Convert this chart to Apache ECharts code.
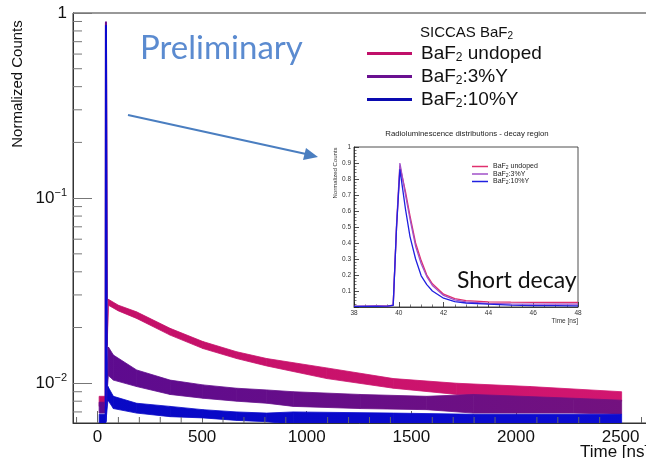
<!DOCTYPE html>
<html>
<head>
<meta charset="utf-8">
<script src="https://cdn.jsdelivr.net/npm/echarts@6/dist/echarts.min.js"></script>
<style>
  html, body { margin: 0; padding: 0; background: #fff; }
  #chart { width: 646px; height: 458px; }
</style>
</head>
<body>
<div id="chart"></div>
<script>
// main plot: decay bands (time in ns, normalized counts)
const redTime = [8, 38, 52, 100, 187, 347, 504, 665, 809, 1096, 1414, 1717, 2067, 2505];
const redHigh = [0.0085, 0.0085, 0.0284, 0.0264, 0.0243, 0.0198, 0.0168, 0.0148, 0.0136, 0.0121, 0.0106, 0.0100, 0.0096, 0.0090];
const redLow = [0.0075, 0.0075, 0.0264, 0.0246, 0.0224, 0.0182, 0.0154, 0.0136, 0.0124, 0.0106, 0.0094, 0.0087, 0.0083, 0.0080];

const purpleTime = [8, 38, 52, 76, 187, 347, 504, 665, 809, 936, 1255, 1574, 1796, 2274, 2505];
const purpleHigh = [0.0079, 0.0079, 0.0157, 0.0142, 0.0118, 0.0104, 0.0098, 0.0094, 0.0092, 0.0090, 0.0087, 0.0085, 0.0087, 0.0083, 0.0081];
const purpleLow = [0.0069, 0.0069, 0.0110, 0.0104, 0.0096, 0.0087, 0.0083, 0.0080, 0.0078, 0.0075, 0.0073, 0.0072, 0.0069, 0.0069, 0.0068];

const blueTime = [8, 38, 50, 76, 187, 347, 504, 665, 809, 936, 1414, 1796, 2505];
const blueHigh = [0.0068, 0.0068, 0.0096, 0.0085, 0.0078, 0.0075, 0.0072, 0.0070, 0.0069, 0.0070, 0.0069, 0.0068, 0.0068];
const blueLow = [0.0058, 0.0058, 0.0081, 0.0073, 0.0069, 0.0066, 0.0065, 0.0063, 0.0062, 0.0060, 0.0060, 0.0059, 0.0059];

// the fast spike at ~40 ns
const spikeTime = [39.5, 40.5, 44];
const redSpike = [0.0075, 0.88, 0.028];
const purpleSpike = [0.0075, 0.90, 0.016];
const blueSpike = [0.0062, 0.86, 0.0096];

// inset: decay region
const insetTime = [38, 39, 39.5, 39.75, 39.9, 40.05, 40.3, 40.5, 40.75, 41, 41.25, 41.5, 42, 42.5, 43, 44, 45, 46, 47, 48];
const insetRed = [0.004, 0.005, 0.006, 0.012, 0.5, 0.88, 0.72, 0.57, 0.40, 0.29, 0.20, 0.145, 0.08, 0.052, 0.04, 0.032, 0.03, 0.029, 0.028, 0.028];
const insetPurple = [0.004, 0.008, 0.006, 0.012, 0.52, 0.90, 0.70, 0.55, 0.38, 0.27, 0.19, 0.135, 0.072, 0.045, 0.032, 0.022, 0.019, 0.018, 0.018, 0.018];
const insetBlue = [0.004, 0.004, 0.005, 0.010, 0.5, 0.86, 0.61, 0.44, 0.30, 0.195, 0.14, 0.10, 0.055, 0.034, 0.025, 0.018, 0.012, 0.009, 0.008, 0.007];

const names = ['BaF2 undoped', 'BaF2:3%Y', 'BaF2:10%Y'];
const xTicksMinor = [-100, 100, 200, 300, 400, 600, 700, 800, 900, 1100, 1200, 1300, 1400, 1600, 1700, 1800, 1900, 2100, 2200, 2300, 2400, 2600];
const yTicksMinor = [0.007, 0.008, 0.009, 0.02, 0.03, 0.04, 0.05, 0.06, 0.07, 0.08, 0.09, 0.2, 0.3, 0.4, 0.5, 0.6, 0.7, 0.8, 0.9];

const X_MIN = -117, X_MAX = 2631, Y_MIN = 0.0061, Y_MAX = 1;
const helv = 'Liberation Sans';

function bandData(t, lo, hi) {
  const out = [];
  for (let i = 0; i < t.length - 1; i++) {
    out.push([t[i], lo[i], hi[i], t[i + 1], lo[i + 1], hi[i + 1]]);
  }
  return out;
}
function pairs(t, v) {
  return t.map((x, i) => [x, v[i]]);
}
function grad(c1, c2) {
  return new echarts.graphic.LinearGradient(73, 0, 646, 0, [
    { offset: 0, color: c1 }, { offset: 1, color: c2 }
  ], true);
}
function bandSeries(name, t, lo, hi, c1, c2) {
  const fill = grad(c1, c2);
  return {
    name: name,
    type: 'custom',
    clip: true,
    encode: { x: [0, 3], y: [1, 2, 4, 5] },
    data: bandData(t, lo, hi),
    renderItem: function (params, api) {
      const a = api.coord([api.value(0), api.value(1)]);
      const b = api.coord([api.value(0), api.value(2)]);
      const c = api.coord([api.value(3), api.value(5)]);
      const d = api.coord([api.value(3), api.value(4)]);
      return {
        type: 'polygon',
        shape: { points: [a, b, c, d] },
        style: { fill: fill, stroke: fill, lineWidth: 0.8 }
      };
    }
  };
}
function spikeSeries(name, v, color) {
  return {
    name: name,
    type: 'line',
    data: pairs(spikeTime, v),
    symbol: 'none',
    lineStyle: { color: color, width: 2 },
    itemStyle: { color: color }
  };
}
function insetSeries(name, v, color) {
  return {
    name: name,
    type: 'line',
    xAxisIndex: 1,
    yAxisIndex: 1,
    data: pairs(insetTime, v),
    symbol: 'none',
    lineStyle: { color: color, width: 1.3 },
    itemStyle: { color: color }
  };
}
const legendRich = {
  'BaF2 undoped': 'BaF{s|2} undoped',
  'BaF2:3%Y': 'BaF{s|2}:3%Y',
  'BaF2:10%Y': 'BaF{s|2}:10%Y'
};

const chart = echarts.init(document.getElementById('chart'), null, { renderer: 'canvas' });

const tickData = [];
yTicksMinor.forEach(v => tickData.push([0, v]));
xTicksMinor.forEach(v => tickData.push([1, v]));

const option = {
  animation: false,
  backgroundColor: '#ffffff',
  grid: [
    { left: 73, top: 13, right: -2, bottom: 35, show: true, borderColor: '#333', borderWidth: 1, outerBoundsMode: 'none' },
    { left: 354, top: 147, right: 68, bottom: 151, show: true, borderColor: '#222', borderWidth: 0.8, backgroundColor: '#fff', outerBoundsMode: 'none' }
  ],
  xAxis: [
    {
      type: 'value', gridIndex: 0, min: X_MIN, max: X_MAX,
      axisLine: { onZero: false, lineStyle: { color: '#333' } },
      axisTick: { inside: true, length: 12, lineStyle: { color: '#666' } },
      splitLine: { show: false },
      axisLabel: { fontFamily: helv, fontSize: 17, color: '#111', margin: 6, showMinLabel: false, showMaxLabel: false, formatter: v => String(v) }
    },
    {
      type: 'value', gridIndex: 1, min: 38, max: 48, interval: 2,
      axisLine: { onZero: false, lineStyle: { color: '#222', width: 0.8 } },
      axisTick: { inside: true, length: 5, lineStyle: { color: '#222', width: 0.8 } },
      minorTick: { show: true, splitNumber: 4, length: 2.5, lineStyle: { color: '#222', width: 0.6 } },
      splitLine: { show: false },
      axisLabel: { fontFamily: helv, fontSize: 6.5, color: '#333', margin: 3, formatter: v => String(v) }
    }
  ],
  yAxis: [
    {
      type: 'log', logBase: 10, gridIndex: 0, min: Y_MIN, max: Y_MAX,
      axisLine: { show: true, onZero: false, lineStyle: { color: '#333' } },
      axisTick: { inside: true, length: 19, lineStyle: { color: '#777' } },
      splitLine: { show: false },
      axisLabel: {
        fontFamily: helv, fontSize: 17, color: '#111', margin: 6, showMinLabel: false,
        formatter: function (v) {
          const e = Math.log10(v);
          if (Math.abs(e - Math.round(e)) > 1e-6) return '';
          const n = Math.round(e);
          return n === 0 ? '1' : '10{sup|\u2212' + (-n) + '}';
        },
        rich: { sup: { fontFamily: helv, fontSize: 11, color: '#111', padding: [0, 0, 10, 0] } }
      }
    },
    {
      type: 'value', gridIndex: 1, min: 0, max: 1, interval: 0.1,
      axisLine: { show: true, onZero: false, lineStyle: { color: '#222', width: 0.8 } },
      axisTick: { inside: true, length: 5, lineStyle: { color: '#222', width: 0.8 } },
      minorTick: { show: true, splitNumber: 5, length: 2.5, lineStyle: { color: '#222', width: 0.6 } },
      splitLine: { show: false },
      axisLabel: {
        fontFamily: helv, fontSize: 6.5, color: '#333', margin: 3,
        formatter: v => (v < 0.05 ? '' : (v > 0.95 ? '1' : v.toFixed(1)))
      }
    }
  ],
  legend: [
    {
      orient: 'vertical', left: 362, top: 39, itemWidth: 45, itemHeight: 3, itemGap: 3,
      icon: 'rect', selectedMode: false,
      data: [
        { name: names[0], itemStyle: { color: '#c0106a' } },
        { name: names[1], itemStyle: { color: '#6a1090' } },
        { name: names[2], itemStyle: { color: '#0a0ab0' } }
      ],
      formatter: n => legendRich[n],
      textStyle: {
        fontFamily: helv, fontSize: 19, color: '#111', padding: [0, 0, 0, 4],
        rich: { s: { fontFamily: helv, fontSize: 12, color: '#111', padding: [9, 0, 0, 0] } }
      }
    },
    {
      orient: 'vertical', left: 467, top: 158, itemWidth: 16, itemHeight: 1.5, itemGap: 0,
      icon: 'rect', selectedMode: false,
      data: [
        { name: 'inset ' + names[0], itemStyle: { color: '#e0306e' } },
        { name: 'inset ' + names[1], itemStyle: { color: '#a050c8' } },
        { name: 'inset ' + names[2], itemStyle: { color: '#2020e0' } }
      ],
      formatter: n => legendRich[n.replace('inset ', '')],
      textStyle: {
        fontFamily: helv, fontSize: 7, color: '#222',
        rich: { s: { fontFamily: helv, fontSize: 5, color: '#222', padding: [3, 0, 0, 0] } }
      }
    }
  ],
  series: [
    bandSeries(names[0], redTime, redLow, redHigh, '#c20f68', '#d21670'),
    bandSeries(names[1], purpleTime, purpleLow, purpleHigh, '#5c0a90', '#74127e'),
    bandSeries(names[2], blueTime, blueLow, blueHigh, '#0808c4', '#0c0cd2'),
    spikeSeries(names[0], redSpike, '#c20f68'),
    spikeSeries(names[1], purpleSpike, '#6a1090'),
    spikeSeries(names[2], blueSpike, '#0a0ad0'),
    {
      type: 'custom',
      clip: false,
      silent: true,
      encode: { x: 0, y: 1 },
      data: tickData,
      renderItem: function (params, api) {
        const kind = api.value(0), v = api.value(1);
        if (kind === 0) {
          const p = api.coord([X_MIN, v]);
          return { type: 'line', shape: { x1: p[0], y1: p[1], x2: p[0] + 9, y2: p[1] }, style: { stroke: '#777', lineWidth: 1 } };
        }
        const p = api.coord([v, Y_MIN]);
        return { type: 'line', shape: { x1: p[0], y1: p[1], x2: p[0], y2: p[1] - 6 }, style: { stroke: '#666', lineWidth: 1 } };
      }
    },
    insetSeries('inset ' + names[0], insetRed, '#e0306e'),
    insetSeries('inset ' + names[1], insetPurple, '#a050c8'),
    insetSeries('inset ' + names[2], insetBlue, '#2020e0')
  ],
  graphic: [
    {
      type: 'text', x: 18, y: 84, rotation: Math.PI / 2,
      style: { text: 'Normalized Counts', font: '15px "Liberation Sans"', fill: '#111', align: 'center', verticalAlign: 'middle' }
    },
    {
      type: 'text', x: 580, y: 444,
      style: { text: 'Time [ns]', font: '17px "Liberation Sans"', fill: '#111' }
    },
    {
      type: 'text', x: 420, y: 24,
      style: {
        text: 'SICCAS BaF{s|2}', font: '15px "Liberation Sans"', fill: '#111',
        rich: { s: { fontFamily: helv, fontSize: 10, fill: '#111', padding: [7, 0, 0, 0] } }
      }
    },
    {
      type: 'text', x: 140, y: 32,
      style: { text: 'Preliminary', font: '33px Lato', fill: '#5b8bd0' }
    },
    {
      type: 'line', shape: { x1: 128, y1: 115, x2: 306, y2: 154 },
      style: { stroke: '#4a7ec0', lineWidth: 2 }
    },
    {
      type: 'polygon', shape: { points: [[318, 157], [303, 160], [306, 148]] },
      style: { fill: '#4a7ec0' }
    },
    {
      type: 'text', x: 467, y: 134,
      style: { text: 'Radioluminescence distributions - decay region', font: '7.8px "Liberation Sans"', fill: '#222', align: 'center', verticalAlign: 'middle' }
    },
    {
      type: 'text', x: 335, y: 173, rotation: Math.PI / 2,
      style: { text: 'Normalized Counts', font: '6px "Liberation Sans"', fill: '#333', align: 'center', verticalAlign: 'middle' }
    },
    {
      type: 'text', x: 578, y: 318,
      style: { text: 'Time [ns]', font: '6.5px "Liberation Sans"', fill: '#333', align: 'right' }
    },
    {
      type: 'text', x: 457, y: 269,
      style: { text: 'Short decay', font: '23px Lato', fill: '#111' }
    }
  ]
};
chart.setOption(option);
</script>
</body>
</html>
